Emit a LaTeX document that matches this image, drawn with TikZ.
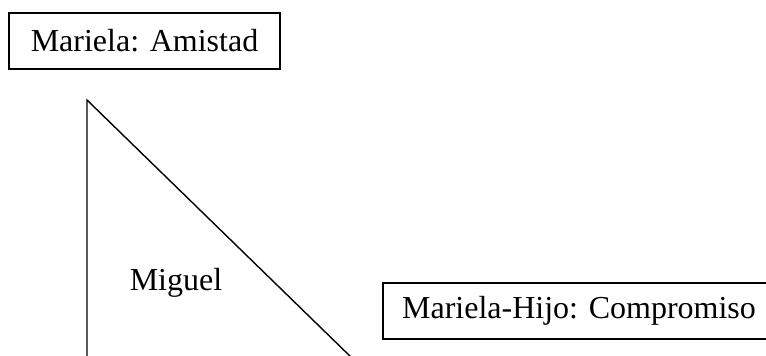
\documentclass[tikz,border=0pt]{standalone}
\usepackage{fontspec}
\setmainfont{Liberation Serif}
\begin{document}
\begin{tikzpicture}[x=1pt,y=-1pt,
  lbl/.style={font=\fontsize{32}{38}\selectfont, inner sep=0pt},
  boxed/.style={lbl, draw, line width=1.6pt, minimum height=56pt}]
\useasboundingbox (0,0) rectangle (766,356);
\node[boxed, minimum width=271pt] (amistad) at (144.5,41) {Mariela: Amistad};
\node[boxed, minimum width=392pt] (compromiso) at (579,311) {Mariela-Hijo: Compromiso};
\node[lbl] (miguel) at (176,283) {Miguel};
\coordinate (apex) at (87,100);
\coordinate (bl) at (87,360);
\coordinate (br) at (354,360);
\draw[line width=1.4pt] (bl) -- (apex) -- (br);
\end{tikzpicture}
\end{document}
